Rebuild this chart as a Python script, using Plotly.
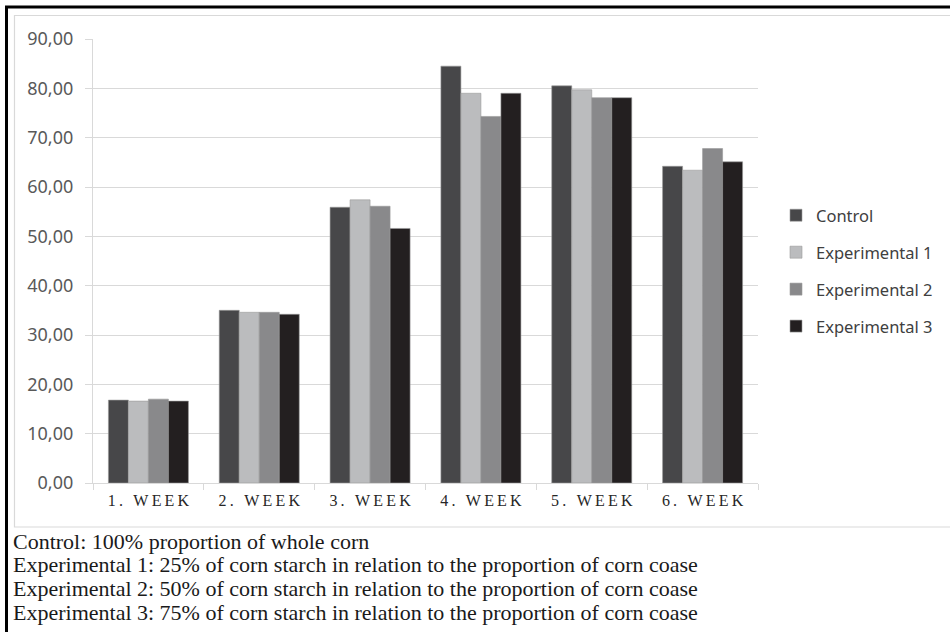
import plotly.graph_objects as go

categories = ["1. WEEK", "2. WEEK", "3. WEEK", "4. WEEK", "5. WEEK", "6. WEEK"]
control = [16.8, 35.0, 55.9, 84.5, 80.5, 64.2]
experimental_1 = [16.6, 34.6, 57.4, 79.0, 79.7, 63.4]
experimental_2 = [17.0, 34.6, 56.1, 74.3, 78.1, 67.8]
experimental_3 = [16.6, 34.2, 51.6, 79.0, 78.1, 65.1]
series_names = ["Control", "Experimental 1", "Experimental 2", "Experimental 3"]
series_colors = ["#474749", "#bbbcbe", "#89898b", "#231f20"]
y_ticks = [0, 10, 20, 30, 40, 50, 60, 70, 80, 90]
notes = [
    "Control: 100% proportion of whole corn",
    "Experimental 1: 25% of corn starch in relation to the proportion of corn coase",
    "Experimental 2: 50% of corn starch in relation to the proportion of corn coase",
    "Experimental 3: 75% of corn starch in relation to the proportion of corn coase",
]

W, H = 950, 632
L, R, T, B = 93, 758, 39, 483  # plot area pixel bounds


def px(x):
    return (x - L) / (R - L)


def py(y):
    return (B - y) / (B - T)


def spaced(s):
    return "\u2009".join(list(s))


fig = go.Figure()
for name, vals, col in zip(series_names,
                           [control, experimental_1, experimental_2, experimental_3],
                           series_colors):
    fig.add_trace(go.Bar(
        x=categories, y=vals, name=name, legendgroup=name,
        marker=dict(color=col, line=dict(color="#9a9a9a", width=0.6)),
    ))

shapes = [
    dict(type="rect", xref="paper", yref="paper",
         x0=px(14.5), x1=px(960), y0=py(15.5), y1=py(527),
         line=dict(color="#d9d9d9", width=1.2), fillcolor="rgba(0,0,0,0)", layer="below"),
    dict(type="rect", xref="paper", yref="paper",
         x0=px(6.5), x1=px(970), y0=py(7), y1=py(660),
         line=dict(color="#000000", width=3), fillcolor="rgba(0,0,0,0)"),
]

annotations = []
for i, t in enumerate(notes):
    annotations.append(dict(
        text=t, xref="paper", yref="paper", x=px(11), y=py(541 + 23.8 * i),
        xanchor="left", yanchor="middle", showarrow=False,
        font=dict(family="Liberation Serif", size=22, color="#1a1a1a"),
    ))

fig.update_layout(
    width=W, height=H,
    margin=dict(l=L, r=W - R, t=T, b=H - B, pad=0, autoexpand=False),
    paper_bgcolor="white", plot_bgcolor="white",
    separators=",.",
    barmode="group", bargap=0.278, bargroupgap=0,
    shapes=shapes, annotations=annotations,
    legend=dict(
        x=px(776), xanchor="left", y=py(271), yanchor="middle",
        font=dict(family="Noto Sans", size=16.5, color="#404040"),
        tracegroupgap=12.5, bgcolor="rgba(0,0,0,0)", itemwidth=30,
    ),
    xaxis=dict(
        tickmode="array", tickvals=categories, ticktext=[spaced(c) for c in categories],
        showline=True, linecolor="#d9d9d9", linewidth=1.2,
        ticks="outside", tickson="boundaries", ticklen=6, tickcolor="#d9d9d9",
        tickfont=dict(family="Liberation Serif", size=16, color="#262626"),
        ticklabelstandoff=3, showgrid=False,
    ),
    yaxis=dict(
        range=[0, 90], tickvals=y_ticks, tickformat=".2f",
        showline=True, linecolor="#d9d9d9", linewidth=1.2,
        gridcolor="#d9d9d9", gridwidth=1.2, zeroline=False,
        ticks="outside", ticklen=7, tickcolor="#d9d9d9",
        tickfont=dict(family="Noto Sans", size=18, color="#595959"),
        ticklabelstandoff=8,
    ),
)

fig.write_html("out.html", config={"displayModeBar": False},
               post_script="document.body.style.margin='0px';")
